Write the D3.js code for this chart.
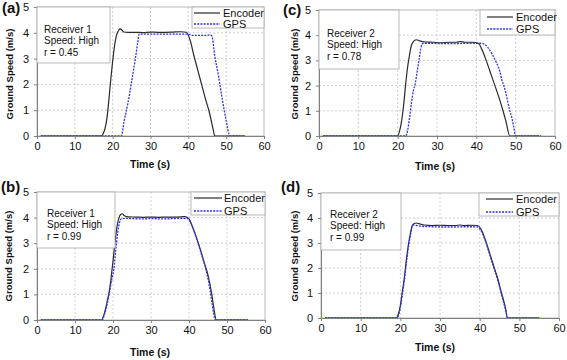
<!DOCTYPE html>
<html>
<head>
<meta charset="utf-8">
<script src="https://cdn.jsdelivr.net/npm/d3@7/dist/d3.min.js"></script>
<style>
html,body{margin:0;padding:0;background:#fff;}
svg{display:block;font-family:"Liberation Sans",Arial,sans-serif;}
</style>
</head>
<body>
<svg id="chart" width="567" height="360"></svg>
<script>
// ---------- DATA ----------
const xTicks = [0, 10, 20, 30, 40, 50, 60];
const yTicks = [0, 1, 2, 3, 4, 5];
const seriesNames = ["Encoder", "GPS"];
const panelLabels = ["(a)", "(c)", "(b)", "(d)"];
const receivers = ["Receiver 1", "Receiver 2", "Receiver 1", "Receiver 2"];
const speedLabels = ["Speed: High", "Speed: High", "Speed: High", "Speed: High"];
const rLabels = ["r = 0.45", "r = 0.78", "r = 0.99", "r = 0.99"];

// panel (a)
const aEncT = [1, 17, 17.5, 18, 18.5, 19, 19.5, 20, 20.5, 21, 21.5, 22, 22.5, 23, 24, 26, 28, 30, 32, 34, 36, 38, 39.5, 40.5, 41.5, 42.5, 43.5, 44.5, 45.5, 46.5, 47, 55];
const aEncV = [0, 0, 0.1, 0.3, 0.7, 1.4, 2.2, 2.9, 3.5, 3.9, 4.08, 4.15, 4.1, 4.03, 4.02, 4.02, 4.01, 4.03, 4.02, 4.02, 4.03, 4.04, 4.02, 3.7, 3.1, 2.55, 2.0, 1.45, 0.95, 0.3, 0, 0];
const aGpsT = [1, 22.3, 23, 24, 25, 26, 26.6, 27, 28, 30, 35, 40, 40.5, 41, 43, 45, 45.5, 46.2, 47, 48, 49, 50, 51, 55];
const aGpsV = [0, 0, 0.55, 1.25, 2.1, 3.0, 3.6, 3.95, 3.95, 3.95, 3.95, 3.95, 3.92, 3.9, 3.9, 3.9, 3.92, 3.88, 3.1, 2.3, 1.4, 0.6, 0, 0];
// panel (c)
const cEncT = [1, 20, 20.5, 21, 21.5, 22, 22.5, 23, 23.5, 24, 24.7, 25.5, 27, 29, 31, 33, 35, 36, 37, 39, 40.5, 41.5, 42.5, 43.5, 44.5, 45.5, 46.5, 47.5, 48.5, 56];
const cEncV = [0, 0, 0.2, 0.6, 1.2, 2.0, 2.7, 3.2, 3.6, 3.75, 3.82, 3.78, 3.73, 3.72, 3.7, 3.72, 3.72, 3.75, 3.72, 3.72, 3.68, 3.4, 3.0, 2.55, 2.1, 1.65, 1.15, 0.6, 0, 0];
const cGpsT = [1, 22, 22.5, 23, 23.5, 24, 24.5, 25, 25.5, 26, 26.5, 28, 30, 35, 40, 41, 42, 43, 44, 45, 46, 46.5, 47, 47.5, 48, 48.5, 49, 49.5, 50, 56.5];
const cGpsV = [0, 0, 0.2, 0.7, 1.3, 1.8, 2.1, 2.6, 3.1, 3.55, 3.68, 3.68, 3.67, 3.67, 3.68, 3.68, 3.65, 3.5, 3.25, 2.95, 2.55, 2.2, 2.0, 1.7, 1.35, 1.0, 0.75, 0.35, 0, 0];
// panel (b)
const bEncT = [1, 17, 17.5, 18, 18.5, 19, 19.5, 20, 20.5, 21, 21.5, 22, 22.5, 23, 24, 26, 28, 30, 32, 34, 36, 38, 39, 40, 41, 42, 43, 44, 45, 46, 46.5, 47.2, 55.5];
const bEncV = [0, 0, 0.15, 0.4, 0.75, 1.1, 1.65, 2.3, 3.0, 3.6, 3.95, 4.12, 4.15, 4.07, 4.03, 4.02, 4.01, 4.02, 4.01, 4.02, 4.02, 4.03, 4.04, 3.95, 3.6, 3.2, 2.75, 2.25, 1.75, 1.0, 0.5, 0, 0];
const bGpsT = [1, 17.2, 17.7, 18.2, 18.7, 19.2, 19.7, 20.2, 20.7, 21.2, 21.7, 22.2, 23, 25, 28, 30, 33, 36, 38, 39.5, 40.5, 41.5, 42.5, 43.5, 44.5, 45.5, 46, 47, 55.5];
const bGpsV = [0, 0, 0.2, 0.45, 0.8, 1.2, 1.6, 1.95, 2.7, 3.35, 3.8, 3.95, 3.97, 3.96, 3.95, 3.96, 3.95, 3.96, 3.97, 3.97, 3.8, 3.4, 2.95, 2.45, 1.95, 1.2, 0.7, 0, 0];
// panel (d)
const dEncT = [1, 19, 19.5, 20, 20.5, 21, 21.5, 22, 22.5, 23, 23.5, 24, 25, 26, 28, 30, 32, 34, 35, 36, 38, 39.5, 40.5, 41.5, 42.5, 43.5, 44.5, 45.5, 46.5, 47, 55];
const dEncV = [0, 0, 0.15, 0.5, 1.05, 1.6, 2.3, 2.9, 3.35, 3.7, 3.78, 3.8, 3.76, 3.72, 3.7, 3.71, 3.7, 3.7, 3.72, 3.7, 3.71, 3.7, 3.5, 3.1, 2.6, 2.1, 1.6, 1.0, 0.4, 0, 0];
const dGpsT = [1, 19.2, 19.7, 20.2, 20.7, 21.2, 21.7, 22.2, 22.7, 23.2, 24, 26, 28, 30, 33, 36, 38, 39.5, 40.5, 41.5, 42.5, 43.5, 44.5, 45.5, 46.5, 47.1, 55];
const dGpsV = [0, 0, 0.2, 0.6, 1.15, 1.75, 2.45, 3.0, 3.45, 3.72, 3.7, 3.66, 3.65, 3.64, 3.64, 3.65, 3.65, 3.64, 3.45, 3.05, 2.55, 2.05, 1.55, 0.95, 0.35, 0, 0];

// ---------- LAYOUT ----------
const layouts = [
  {x0:37, x1:264, yT:7, yB:136, lab:[2,8], info:[37,7,73,56,44,[29,40.5,52]], leg:[192,7,72,21,194,220,223,[13,24]], ylab:[10,74], xlab:[150,164]},
  {x0:319, x1:555, yT:10, yB:136, lab:[283,10], info:[319,10,80,59,327,[33,44.5,56]], leg:[480,10,75,25,487,513,516,[17,29]], ylab:[295,74], xlab:[435,166]},
  {x0:37, x1:265, yT:192, yB:320, lab:[1,187], info:[37,192,78,56,47,[213,224.5,236]], leg:[191,192,74,23,194,222,224,[198,211]], ylab:[9,256], xlab:[150,352]},
  {x0:321, x1:559, yT:193, yB:318, lab:[281,187], info:[321,193,80,57,330,[214,225.5,237]], leg:[479,193,80,23,486,513,516,[199,212]], ylab:[295,256], xlab:[435,347]}
];
const panelData = [
  [[aEncT, aEncV], [aGpsT, aGpsV]],
  [[cEncT, cEncV], [cGpsT, cGpsV]],
  [[bEncT, bEncV], [bGpsT, bGpsV]],
  [[dEncT, dEncV], [dGpsT, dGpsV]]
];
const colors = ["#2a2a2a", "#2b35e8"];
const dashes = [null, "2,1.2"];

const svg = d3.select("#chart");

layouts.forEach((L, i) => {
  const x = d3.scaleLinear().domain([0, 60]).range([L.x0, L.x1]);
  const y = d3.scaleLinear().domain([0, 5]).range([L.yB, L.yT]);
  const g = svg.append("g");

  // grid
  g.append("g").selectAll("line").data(xTicks.slice(1, -1)).join("line")
    .attr("x1", d => x(d)).attr("x2", d => x(d)).attr("y1", L.yT).attr("y2", L.yB)
    .attr("stroke", "#c4c4c4").attr("stroke-dasharray", "2,2").attr("stroke-width", 0.8);
  g.append("g").selectAll("line").data(yTicks.slice(1, -1)).join("line")
    .attr("x1", L.x0).attr("x2", L.x1).attr("y1", d => y(d)).attr("y2", d => y(d))
    .attr("stroke", "#c4c4c4").attr("stroke-dasharray", "2,2").attr("stroke-width", 0.8);
  // plot border
  g.append("rect").attr("x", L.x0).attr("y", L.yT).attr("width", L.x1 - L.x0).attr("height", L.yB - L.yT)
    .attr("fill", "none").attr("stroke", "#a8a8a8").attr("stroke-width", 0.8);

  // lines
  const line = d3.line().x(d => x(d[0])).y(d => y(d[1])).curve(d3.curveMonotoneX);
  panelData[i].forEach((s, k) => {
    const pts = s[0].map((t, j) => [t, s[1][j]]);
    g.append("path").datum(pts).attr("d", line).attr("fill", "none")
      .attr("stroke", colors[k]).attr("stroke-width", k === 0 ? 1.2 : 1.3)
      .attr("stroke-dasharray", dashes[k]);
  });

  // axes
  const xa = g.append("g").attr("transform", `translate(0,${L.yB})`)
    .call(d3.axisBottom(x).tickValues(xTicks).tickFormat(d3.format("d")).tickSize(3).tickPadding(3).tickSizeOuter(0));
  const ya = g.append("g").attr("transform", `translate(${L.x0},0)`)
    .call(d3.axisLeft(y).tickValues(yTicks).tickFormat(d3.format("d")).tickSize(3).tickPadding(5).tickSizeOuter(0));
  [xa, ya].forEach(a => {
    a.select(".domain").attr("stroke", "#808080");
    a.selectAll(".tick line").attr("stroke", "#808080");
    a.selectAll("text").attr("font-size", 11).attr("fill", "#111")
      .attr("font-family", "'Liberation Sans', Arial, sans-serif");
  });

  // info box
  const I = L.info;
  g.append("rect").attr("x", I[0]).attr("y", I[1]).attr("width", I[2]).attr("height", I[3])
    .attr("fill", "#fff").attr("stroke", "#a8a8a8").attr("stroke-width", 0.8);
  [receivers[i], speedLabels[i], rLabels[i]].forEach((t, j) => {
    g.append("text").attr("x", I[4]).attr("y", I[5][j]).attr("dy", "0.35em")
      .attr("font-size", 10).attr("fill", "#111").text(t);
  });

  // legend
  const G = L.leg;
  g.append("rect").attr("x", G[0]).attr("y", G[1]).attr("width", G[2]).attr("height", G[3])
    .attr("fill", "#fff").attr("stroke", "#a8a8a8").attr("stroke-width", 0.8);
  seriesNames.forEach((n, k) => {
    g.append("line").attr("x1", G[4]).attr("x2", G[5]).attr("y1", G[7][k]).attr("y2", G[7][k])
      .attr("stroke", colors[k]).attr("stroke-width", k === 0 ? 1.2 : 1.3).attr("stroke-dasharray", dashes[k]);
    g.append("text").attr("x", G[6]).attr("y", G[7][k]).attr("dy", "0.35em")
      .attr("font-size", 11).attr("fill", "#111").text(n);
  });

  // panel label
  g.append("text").attr("x", L.lab[0]).attr("y", L.lab[1]).attr("dy", "0.35em")
    .attr("font-size", 15).attr("font-weight", "bold").attr("fill", "#111").text(panelLabels[i]);
  // axis titles
  g.append("text").attr("transform", `translate(${L.ylab[0]},${L.ylab[1]}) rotate(-90)`)
    .attr("text-anchor", "middle").attr("dy", "0.35em").attr("font-size", 9.5).attr("font-weight", "bold")
    .attr("fill", "#111").text("Ground Speed (m/s)");
  g.append("text").attr("x", L.xlab[0]).attr("y", L.xlab[1]).attr("text-anchor", "middle").attr("dy", "0.35em")
    .attr("font-size", 10.5).attr("font-weight", "bold").attr("fill", "#111").text("Time (s)");
});
</script>
</body>
</html>
